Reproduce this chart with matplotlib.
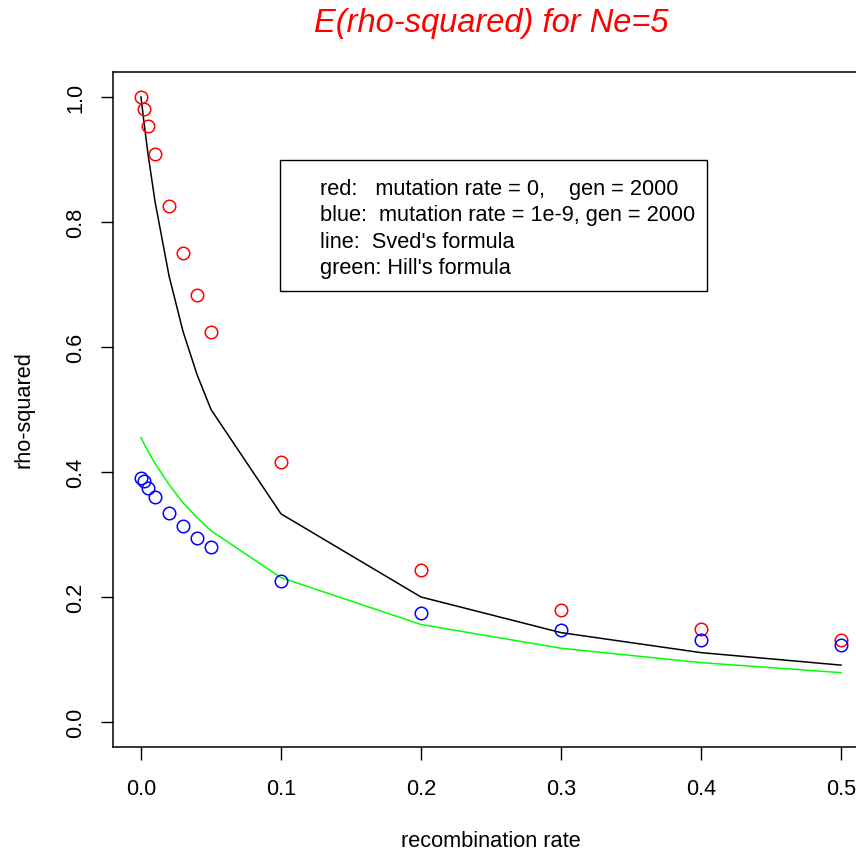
import matplotlib
matplotlib.use("Agg")
import matplotlib.pyplot as plt
from matplotlib.patches import Rectangle

plt.rcParams['font.family'] = ['Liberation Sans', 'DejaVu Sans']

# recombination rates
x_sim = [0.0, 0.002, 0.005, 0.01, 0.02, 0.03, 0.04, 0.05, 0.1, 0.2, 0.3, 0.4, 0.5]
# red: mutation rate = 0, gen = 2000
red_vals = [1.000, 0.981, 0.954, 0.909, 0.826, 0.750, 0.683, 0.624, 0.416, 0.244, 0.179, 0.149, 0.132]
# blue: mutation rate = 1e-9, gen = 2000
blue_vals = [0.391, 0.385, 0.374, 0.360, 0.335, 0.314, 0.295, 0.280, 0.226, 0.174, 0.148, 0.132, 0.123]
# line: Sved's formula
sved_vals = [1.000, 0.962, 0.909, 0.833, 0.714, 0.625, 0.556, 0.500, 0.333, 0.200, 0.143, 0.111, 0.091]
# green: Hill's formula
hill_vals = [0.455, 0.446, 0.433, 0.414, 0.380, 0.351, 0.327, 0.306, 0.231, 0.156, 0.118, 0.095, 0.079]

x_ticks = [0.0, 0.1, 0.2, 0.3, 0.4, 0.5]
y_ticks = [0.0, 0.2, 0.4, 0.6, 0.8, 1.0]
legend_lines = [
    "red:   mutation rate = 0,    gen = 2000",
    "blue:  mutation rate = 1e-9, gen = 2000",
    "line:  Sved's formula",
    "green: Hill's formula",
]

FS = 15.7
W, H = 856, 853
fig = plt.figure(figsize=(W / 100, H / 100), dpi=100)
ax = fig.add_axes([113 / W, 105 / H, (869 - 113) / W, 675 / H])

ax.plot(x_sim, sved_vals, color='black', lw=1.1, zorder=2)
ax.plot(x_sim, hill_vals, color='#00FF00', lw=1.1, zorder=2)
ax.plot(x_sim, red_vals, linestyle='none', marker='o', ms=9, mfc='none',
        mec='#FF0000', mew=1.1, zorder=3)
ax.plot(x_sim, blue_vals, linestyle='none', marker='o', ms=9, mfc='none',
        mec='#0000FF', mew=1.1, zorder=3)

ax.set_xlim(-0.02, 0.52)
ax.set_ylim(-0.04, 1.04)
ax.set_xticks(x_ticks)
ax.set_xticklabels([f"{v:.1f}" for v in x_ticks])
ax.set_yticks(y_ticks)
ax.set_yticklabels([f"{v:.1f}" for v in y_ticks], rotation=90, va='center')
ax.tick_params(axis='both', direction='out', length=9, width=1.0,
               labelsize=FS, color='black')
ax.tick_params(axis='x', pad=13.5)
ax.tick_params(axis='y', pad=10)
for s in ax.spines.values():
    s.set_linewidth(1.1)

# legend box (R-style, text only)
ax.add_patch(Rectangle((0.0993, 0.690), 0.3050, 0.209, fill=False,
                       edgecolor='black', lw=1.0, zorder=4))
y0 = (723 - 189.4) / 625
dy = 26.3 / 625
for i, line in enumerate(legend_lines):
    ax.text(0.128, y0 - i * dy, line, fontsize=FS, va='center', ha='left', zorder=5)

fig.text(491 / W, 1 - 23.5 / H, "E(rho-squared) for Ne=5", color='#FF0000',
         fontsize=23.5, style='italic', ha='center', va='center')
fig.text(491 / W, 1 - 842 / H, "recombination rate", fontsize=FS,
         ha='center', va='center')
fig.text(23.5 / W, 1 - 410 / H, "rho-squared", fontsize=FS, rotation=90,
         ha='center', va='center')

fig.savefig("out.png", dpi=100)
